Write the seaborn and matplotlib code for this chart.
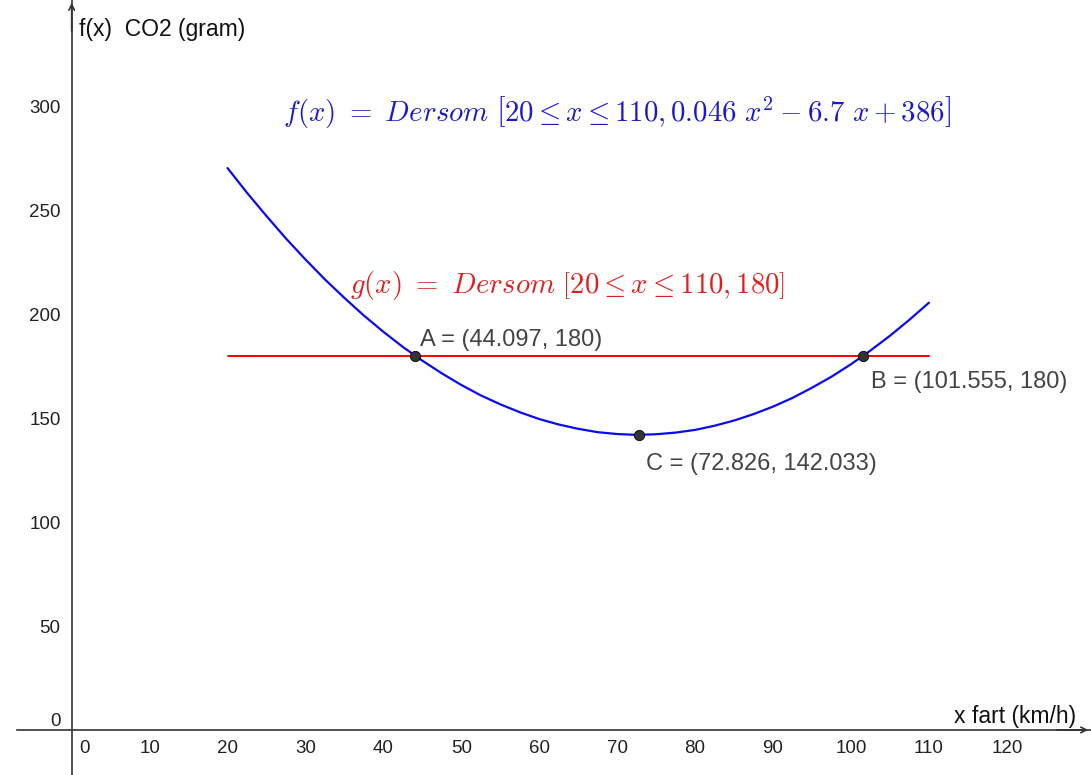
import matplotlib
matplotlib.use("Agg")
import matplotlib.pyplot as plt
import matplotlib.transforms as mtransforms
import seaborn as sns
import pandas as pd

speed = [20, 22.5, 25, 27.5, 30, 32.5, 35, 37.5, 40, 42.5, 45, 47.5, 50, 52.5, 55,
         57.5, 60, 62.5, 65, 67.5, 70, 72.5, 75, 77.5, 80, 82.5, 85, 87.5, 90,
         92.5, 95, 97.5, 100, 102.5, 105, 107.5, 110]
co2 = [270.4, 258.5, 247.3, 236.5, 226.4, 216.8, 207.9, 199.4, 191.6, 184.3, 177.7,
       171.6, 166.0, 161.0, 156.7, 152.9, 149.6, 147.0, 144.9, 143.3, 142.4, 142.0,
       142.3, 143.1, 144.4, 146.4, 148.9, 152.0, 155.6, 159.8, 164.7, 170.0, 176.0,
       182.6, 189.7, 197.4, 205.6]
limit_x = [20, 110]
limit_y = [180, 180]
pt_names = ["A", "B", "C"]
pt_x = [44.097, 101.555, 72.826]
pt_y = [180, 180, 142.033]
x_ticks = list(range(0, 130, 10))
y_ticks = list(range(0, 350, 50))

sns.set_style("white")
plt.rcParams["font.family"] = ["Liberation Sans", "DejaVu Sans"]
plt.rcParams["mathtext.fontset"] = "cm"

fig = plt.figure(figsize=(10.91, 7.75), dpi=100)
ax = fig.add_axes([0, 0, 1, 1])

curve = pd.DataFrame({"x": speed, "y": co2})
line = pd.DataFrame({"x": limit_x, "y": limit_y})
pts = pd.DataFrame({"x": pt_x, "y": pt_y, "name": pt_names})

sns.lineplot(data=curve, x="x", y="y", color="#0a0af0", lw=1.6, ax=ax)
sns.lineplot(data=line, x="x", y="y", color="#ff0000", lw=1.4, ax=ax)
sns.scatterplot(data=pts, x="x", y="y", color="#333333", edgecolor="black",
                s=55, zorder=5, ax=ax)

offsets = {"A": (5, 16), "B": (8, -26), "C": (7, -29)}
for _, r in pts.iterrows():
    ax.annotate(f"{r['name']} = ({r['x']:g}, {r['y']:g})", (r["x"], r["y"]),
                xytext=offsets[r["name"]], textcoords="offset pixels",
                ha="left", va="center", fontsize=17, color="#444444")

ax.text(27.1, 297, r"$f(x)\ =\ Dersom\ \left[20 \leq x \leq 110, 0.046\ x^2 - 6.7\ x + 386\right]$",
        color="#1a1acc", fontsize=20.7, va="center", ha="left")
ax.text(35.7, 214, r"$g(x)\ =\ Dersom\ \left[20 \leq x \leq 110, 180\right]$",
        color="#e02020", fontsize=20.7, va="center", ha="left")

ax.set_xlim(-9.2, 130.8)
ax.set_ylim(-21.7, 351.3)
ax.spines["left"].set_position(("data", 0))
ax.spines["bottom"].set_position(("data", 0))
ax.spines["top"].set_visible(False)
ax.spines["right"].set_visible(False)
ax.spines["bottom"].set_bounds(-7, 130.8)
for s in ["left", "bottom"]:
    ax.spines[s].set_color("#333333")
    ax.spines[s].set_linewidth(1.2)

ax.set_xticks(x_ticks)
ax.set_yticks(y_ticks)
ax.set_xticklabels([str(v) for v in x_ticks])
ax.set_yticklabels([str(v) for v in y_ticks])
ax.tick_params(axis="both", direction="out", length=3, width=1, colors="#333333",
               labelsize=13.5, labelcolor="#222222")
ax.tick_params(axis="x", pad=4)
ax.tick_params(axis="y", pad=5)
ax.set_xlabel("")
ax.set_ylabel("")

# origin labels sit beside the axes, as in the original
ax.get_xticklabels()[0].set_transform(ax.get_xticklabels()[0].get_transform()
                                      + mtransforms.ScaledTranslation(0.13, 0, fig.dpi_scale_trans))
ax.get_yticklabels()[0].set_transform(ax.get_yticklabels()[0].get_transform()
                                      + mtransforms.ScaledTranslation(0, 0.1, fig.dpi_scale_trans))

ax.annotate("", xy=(0, 351.3), xytext=(0, 335),
            arrowprops=dict(arrowstyle="->", lw=1.2, color="#333333"), annotation_clip=False)
ax.annotate("", xy=(130.8, 0), xytext=(126, 0),
            arrowprops=dict(arrowstyle="->", lw=1.2, color="#333333"), annotation_clip=False)

ax.text(1.0, 337, "f(x)  CO2 (gram)", fontsize=16.5, ha="left", va="center", color="#111111")
ax.text(113.2, 6.5, "x fart (km/h)", fontsize=16.5, ha="left", va="center", color="#111111")

fig.savefig("out.png", dpi=100)
